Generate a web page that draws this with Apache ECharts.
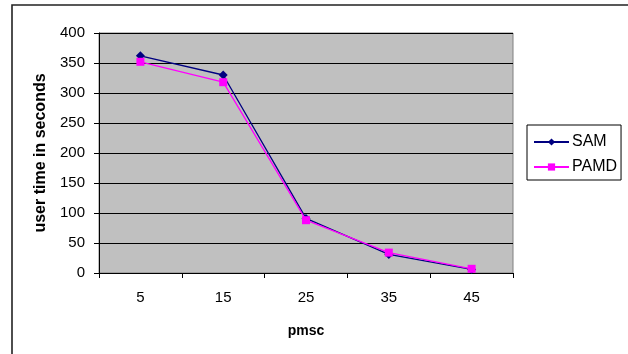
<!DOCTYPE html>
<html>
<head>
<meta charset="utf-8">
<script src="https://cdn.jsdelivr.net/npm/echarts@6/dist/echarts.min.js"></script>
<style>
  html, body { margin: 0; padding: 0; background: #ffffff; }
  #chart { width: 628px; height: 354px; }
</style>
</head>
<body>
<div id="chart"></div>
<script>
// pmsc settings on the x axis
const categories = ['5', '15', '25', '35', '45'];
// user time in seconds for each algorithm
const samValues = [362, 330, 91, 31, 6];
const pamdValues = [352, 318, 88, 34, 7];

const FONT = '"Liberation Sans", Arial, sans-serif';

const chart = echarts.init(document.getElementById('chart'), null, { renderer: 'canvas' });

chart.setOption({
  animation: false,
  backgroundColor: '#ffffff',
  textStyle: { fontFamily: FONT },
  graphic: [
    {
      type: 'rect',
      shape: { x: 12, y: 5, width: 640, height: 380 },
      style: { fill: 'none', stroke: '#222222', lineWidth: 1.6 },
      z: 100
    }
  ],
  grid: {
    left: 99, top: 33, right: 115, bottom: 81,
    show: true,
    backgroundColor: '#C0C0C0',
    borderColor: '#808080',
    borderWidth: 1
  },
  legend: {
    orient: 'vertical',
    left: 527,
    top: 125,
    padding: [9, 4, 5, 6],
    itemWidth: 35,
    itemHeight: 9,
    itemGap: 9,
    borderColor: '#000000',
    borderWidth: 1,
    textStyle: { fontFamily: FONT, fontSize: 16, color: '#000000', padding: [0, 0, 0, -2] },
    data: ['SAM', 'PAMD']
  },
  xAxis: {
    type: 'category',
    data: categories,
    boundaryGap: true,
    name: 'pmsc',
    nameLocation: 'middle',
    nameGap: 51,
    nameTextStyle: { fontFamily: FONT, fontSize: 14, fontWeight: 'bold', color: '#000000' },
    axisLine: { lineStyle: { color: '#000000', width: 1 } },
    axisTick: { show: true, length: 5, lineStyle: { color: '#000000' } },
    axisLabel: { fontFamily: FONT, fontSize: 15, color: '#000000', margin: 17 },
    splitLine: { show: false }
  },
  yAxis: {
    type: 'value',
    min: 0,
    max: 400,
    interval: 50,
    name: 'user time in seconds',
    nameLocation: 'middle',
    nameGap: 47,
    nameTextStyle: { fontFamily: FONT, fontSize: 16, fontWeight: 'bold', color: '#000000' },
    axisLine: { show: true, lineStyle: { color: '#000000', width: 1 } },
    axisTick: { show: true, length: 5, lineStyle: { color: '#000000' } },
    axisLabel: { fontFamily: FONT, fontSize: 15, color: '#000000', margin: 14 },
    splitLine: { show: true, lineStyle: { color: '#000000', width: 1 } }
  },
  series: [
    {
      name: 'SAM',
      type: 'line',
      data: samValues,
      symbol: 'diamond',
      symbolSize: 9,
      color: '#000080',
      lineStyle: { color: '#000080', width: 1.3 },
      itemStyle: { color: '#000080' },
      z: 2
    },
    {
      name: 'PAMD',
      type: 'line',
      data: pamdValues,
      symbol: 'rect',
      symbolSize: 8,
      color: '#FF00FF',
      lineStyle: { color: '#FF00FF', width: 1.3 },
      itemStyle: { color: '#FF00FF' },
      z: 3
    }
  ]
});
</script>
</body>
</html>
